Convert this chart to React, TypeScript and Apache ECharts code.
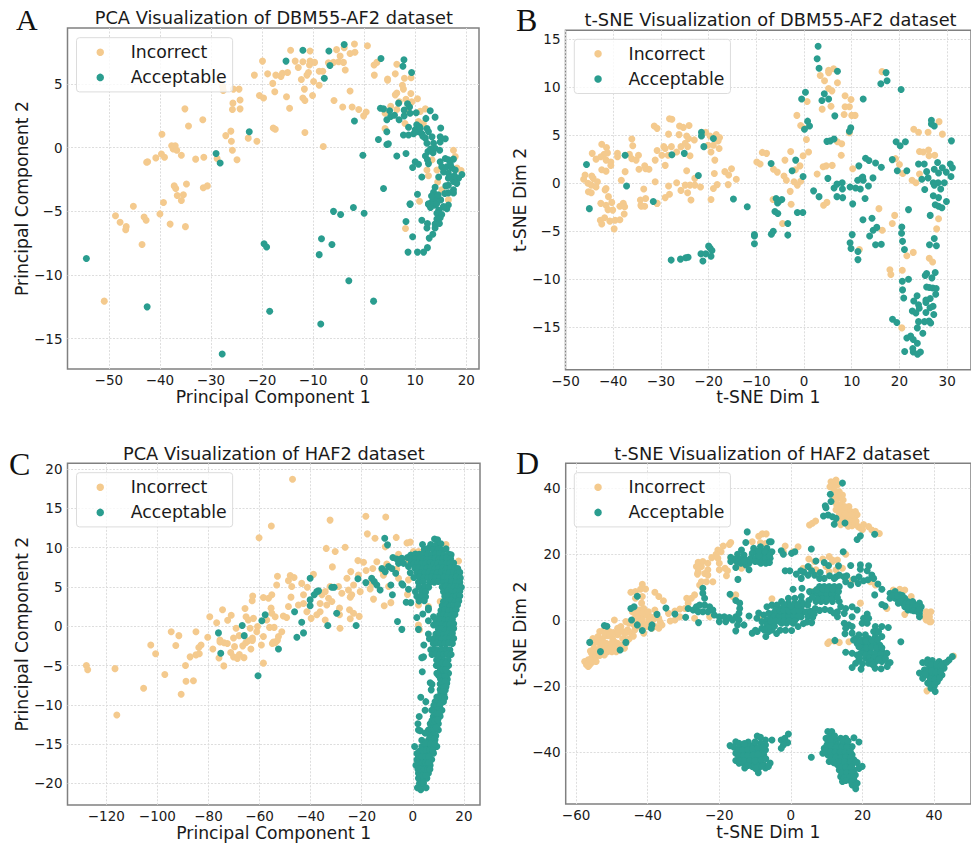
import React, { useEffect, useRef } from "react";
import * as echarts from "echarts";

type P = [number, number];

const INCORRECT = "Incorrect";
const ACCEPTABLE = "Acceptable";
const incorrectColor = "#F4CA8E";
const acceptableColor = "#2A9D8F";

const ticksAX = [-50, -40, -30, -20, -10, 0, 10, 20];
const ticksAY = [-15, -10, -5, 0, 5];
const ticksBX = [-50, -40, -30, -20, -10, 0, 10, 20, 30];
const ticksBY = [-15, -10, -5, 0, 5, 10, 15];
const ticksCX = [-120, -100, -80, -60, -40, -20, 0, 20];
const ticksCY = [-20, -15, -10, -5, 0, 5, 10, 15, 20];
const ticksDX = [-60, -40, -20, 0, 20, 40];
const ticksDY = [-40, -20, 0, 20, 40];

const aIncorrect: P[] = [
[0.65,8],[-1.9,8.14],[-5.4,7.7],[-3.9,7.85],[-2.75,7.4],[-1.8,7.5],[-4.7,7.2],[-5,6.75],[-6,6.7],[-4.05,6.7],[-3.7,6.1],[-7,6.67],
[-14.4,7.65],[-10.6,7.6],[-13.5,6.8],[-12,6.75],[-12.9,6.3],[-10.6,6.8],[-9.7,6.7],[-10.7,6.5],[-19.9,6.8],[-21.5,5.7],[-18.9,5.8],
[-17.3,5.7],[-16.3,5.6],[-16,5.85],[-15,5.9],[-10.9,5.9],[-11.2,5.7],[-8.8,6],[-8.1,6],[-12.3,5.35],[-9.9,5.2],[-8.8,4.9],[-17.9,5.05],
[-11.7,4.6],[-17.5,4.4],[-20.5,4.1],[-19.7,3.9],[-15.2,4],[-12,3.9],[-11.6,3.7],[-10.1,4.1],[-14.6,3.1],[-5.9,3.7],[-4.2,3.2],[-2.35,3.2],
[-1.05,3],[0.4,2.8],[-0.1,2.5],[-2.75,4.45],[-25.6,4.6],[-24.5,4.6],[-27.7,4.8],[-27.6,4.5],[-24.3,3.75],[-25.7,3.5],[-25.8,3],[-24.3,3.05],
[-35.1,3.05],[-31.6,2.2],[-34.4,1.7],[-39.6,1.05],[-26.1,1.3],[-27.1,0.95],[-22.7,0.75],[-26,0.5],[-21,0.5],[-17.8,1.55],[-17.4,1.45],
[-11.6,1.2],[-8,0.1],[-25.8,-0.2],[-24.9,-0.95],[-37.7,0.15],[-37,0.15],[-37.4,-0.1],[-36.7,-0.2],[-35.8,-0.6],[-39.7,-0.5],[-39.1,-0.75],
[-40.8,-0.8],[-42.6,-1.15],[-42.4,-1.1],[-33,-0.9],[-31.4,-0.75],[-28.8,-0.85],[-37.2,-3],[-36.9,-3.2],[-34.8,-2.85],[-31.5,-3.15],[-30.7,-3],
[-36.6,-3.75],[-35.4,-3.7],[-35.8,-4.15],[-39.3,-4.3],[-45.2,-4.6],[-48.7,-5.35],[-47.8,-5.85],[-46.6,-6.2],[-46.7,-6.45],[-43.1,-5.45],
[-42.7,-5.7],[-40,-5.2],[-38,-6],[-35,-6.2],[-43.5,-7.6],[-50.9,-12.05],[8.1,-6.35],
[2,5.7],[1.95,6.5],[2.5,6.7],[6.4,6.55],[6.1,5.8],[4.6,5.4],[4.6,5.3],[9.2,5.5],[7.9,5.45],[7.5,4.9],[7.7,4.6],[9.15,4.25],[6.4,4.3],[6.1,4.15],
[10.45,3.85],[9.35,3.6],[8.2,3.8],[6.9,3.6],[5.2,3.25],[6.4,3],[8.2,2.95],[12,3.05],[11,2.85],[4.1,2.7],[8,1.9],[4.1,1.5],[11.6,1.9],[10.65,2.05],
[17.5,-0.2],[17.85,-0.7],[18.2,-1.6],[19,-1.8],[12.3,-1.75],[12.6,-2.2],[13.3,-0.95],[14.25,-1.75],[14.4,-2.7],[15.2,-3.3],[10.85,-4.2],[16.5,-4.1],
];

const aAcceptable: P[] = [
[-3.9,8.1],[-12,7.65],[-6.9,7.6],[-15.3,6.8],[-6.7,6.45],[-7.8,5.45],[3.3,7],[7.8,6.9],[7.6,6.4],[9.3,5.9],[-22.5,1.25],[-29,-0.45],[-28.2,-1.2],
[-1.9,2.1],[-0.25,-0.6],[3.2,3.1],[3.8,3.05],[5,2.9],[4.45,2.2],[5.2,2.45],[5.95,2.55],[6.85,2.2],[7.85,2.5],[6.75,3.5],[8.5,3.45],[7.85,2.95],
[8.9,3.2],[9,2.7],[12.95,2.9],[12.1,2.3],[13.9,2.4],[15,1.55],[10.2,2.75],[10.3,1.8],[10.85,1.65],[10,1.4],[8.7,1.6],[7.7,1],[8.7,1],[9.7,1.1],
[10.65,1.25],[11.3,1.1],[12.3,1.5],[12.6,1.25],[12,0.75],[13.3,0.85],[12.3,0.35],[13.6,0.35],[13.9,-0.05],[14.9,0.85],[15.9,0.7],[14.9,0.45],
[14.8,-0.2],[13.5,-0.4],[12,-0.65],[12.4,-0.95],[12.6,-1.25],[2.8,0.65],[4.45,1.25],[4.45,0.25],[4.75,0.3],[6.4,-0.65],[8.2,-0.45],[10,-1.1],
[10.65,-1.3],[9.5,-1.55],[14.9,-1.1],[15.9,-0.85],[16.5,-0.95],[17.5,-0.9],[15.2,-1.5],[16.2,-1.5],[17.2,-1.6],[15.55,-1.9],[17.85,-1.75],[16.5,-2],
[19.15,-2.1],[18.5,-2.4],[16.5,-2.4],[17.5,-2.65],[18.15,-2.8],[16.5,-2.95],[17.5,-3.3],[14.6,-2.3],[11.3,-2.3],[13.9,-3.1],[16.5,-3.55],[17.5,-3.55],
[3.8,-3.2],[10.45,-3.65],[9,-4.4],[13.6,-3.5],[13.9,-4],[13.3,-4.25],[12.6,-4.4],[13.9,-4.5],[15.55,-4.65],[16.5,-4.5],[14.6,-4.9],
[-6,-5],[-4.6,-5.25],[-2.1,-4.7],[0,-5.15],[9,-4.45],[12.6,-4.45],[13.6,-4.5],[14.25,-5.15],[15.2,-5.25],[14.9,-5.5],[14.25,-5.6],[16.2,-4.8],
[15.55,-4.65],[11.3,-5.7],[8.2,-5.8],[12.4,-5.95],[12.3,-6.3],[13.9,-6],[14.75,-5.95],[13.9,-6.3],[9.5,-7],[12.75,-7.1],[13.45,-6.8],[12.4,-7.85],
[11.65,-8.2],[10.45,-8.2],[8.6,-8.2],[-54.4,-8.7],[-42.5,-12.5],[-27.8,-16.2],[-19.6,-7.55],[-19.1,-7.8],[-18.5,-12.85],[-8.35,-7.15],[-6.3,-7.6],
[-8.8,-8.4],[-8.5,-13.85],[-3,-10.45],[1.85,-12.05],
[13,-4.7],[14.2,-4.4],[15,-4.1],[15.8,-3.6],[16,-3],[17,-2.3],[16.9,-1.3],[17.7,-2.2],[13.2,-3.8],[14.5,-3.7],[12.5,-0.3],[13,-0.1],[11.5,0.9],[11,1.5],
];

const bIncorrect: P[] = [
[-46.2,0.4],[-45.9,0.85],[-45.3,0],[-44.5,0.75],[-44.2,0.5],[-43.3,0.15],[-44.6,-0.2],[-43.6,-0.4],[-45.2,-0.9],[-44.6,-1],[-41.5,-0.55],[-41.7,-0.7],
[-41,-1.4],[-44.4,3.1],[-42.4,4.05],[-41.4,3.7],[-41.2,3.15],[-41.9,3],[-42.6,2.75],[-43.6,2.5],[-41.5,2.4],[-40.5,2.2],[-40.5,1.85],[-42.4,1.4],
[-41.5,1.25],[-39.1,3.1],[-39.1,2.75],[-37.5,1.2],[-38.3,0.3],[-36.6,3],[-36.1,4.6],[-35.9,3.9],[-36.1,2.55],[-35.2,2.4],[-34.7,2.9],[-34.6,1.45],
[-33.4,1.8],[-33.2,1.5],[-32.5,1.45],[-31.4,5.95],[-30.8,5.7],[-31.2,2.4],[-30.8,3.4],[-29.8,2.9],[-29.4,3.8],[-29.1,3.6],[-29.1,1.85],[-28.4,5.1],
[-28.2,6.7],[-27.7,6.65],[-28.5,2.9],[-27.8,3.8],[-26.7,3.25],[-26.2,5.05],[-26.1,5.95],[-25.3,5.8],[-24.1,6],[-25.8,3.8],[-24.9,4.15],[-24.6,4.9],
[-24.2,4.65],[-23,4.5],[-24.4,3.8],[-23.9,2.85],[-24.6,1.3],[-20.6,5.3],[-19.7,4.9],[-18.4,5.05],[-17.7,4.75],[-18,4.4],[-20.1,3.95],[-19,3.95],
[-17.8,3.6],[-19.5,3.25],[-18.7,2.4],[-18.8,1],[-22.9,0.5],[-31.2,0.15],[-28.4,-0.3],[-26.7,0.05],[-24.9,-0.2],[-23.9,-0.2],[-22.9,-0.2],[-21.7,-0.4],
[-18.2,-0.15],[-19,-0.55],[-25.8,-0.75],[-24.4,-1],[-23.7,-1.75],[-28.2,-1.15],[-29.1,-1.5],[-33.6,-0.6],[-33.2,-1.6],[-34.3,-1.75],[-34.1,-2.4],
[-30.8,-2.1],[-19.5,-1.7],[-16.6,1.2],[-15.8,0.85],[-15.2,1.5],[-15.9,-0.15],[-14.2,0.4],[-9.9,2.2],[-9.2,2],[-8.75,3.2],[-7.85,3.1],[-6.4,1.45],
[-5.6,1.15],[-4.2,0.75],[-3.7,0.3],[-4,2.4],[-2.8,3.3],[-1.8,1.4],[-0.85,1.8],[-2.1,0.15],[-1.4,-0.2],[-0.7,0.2],[-2.9,-0.85],[-6.5,-1.7],[-2.7,-2.2],
[-0.2,2.85],[0.95,3.25],[0.5,4.55],[-1.5,7.05],[0.65,8.5],[-0.7,6],[0,5.7],[2.75,0.95],[4,1.7],[4.65,1.8],[5.9,1.85],[7.8,2.9],[7,4.3],[7.9,4.1],
[10.2,1.5],[3.4,11.2],[4.3,10.65],[5.15,11.75],[6.2,11.9],[5.15,11.5],[7,10.45],[5.15,9.85],[5.85,9.6],[5.65,8],[3.8,7.7],[8.6,9.1],[9.85,8.7],
[8.6,7.95],[9.5,7.95],[8.4,7.15],[10,7.05],[10.7,7.05],[9.5,5.25],[16.35,11.6],[23,5.6],[24,5.3],[26,5.3],[28.3,6.4],[29,5.1],[24.2,3.3],[25,3.25],
[26.1,3.45],[26.2,2.85],[27.4,2.9],[19.2,2.55],[20,1.95],[20.7,1],[24.2,0.95],[22.65,0.3],[23.45,0.05],
[-42.6,-2.1],[-41.5,-2.3],[-40.3,-2],[-41.1,-2.75],[-40.1,-2.8],[-41.8,-3.6],[-42.7,-3.85],[-42.4,-4.25],[-40.7,-3.95],[-39.6,-3.85],[-38.6,-3.8],
[-39.8,-4.75],[-38.6,-2.4],[-37.9,-2.1],[-37.6,-2.45],[-37.7,-3.2],[-34.2,-2.3],[-33.4,-2.4],[-30.8,-2.1],[-4.5,-4.2],[4.1,-2.3],[4.8,-2],[15.7,-2.65],
[19,-3.35],[18.5,-4.2],[28.2,-3.7],[27.8,-4.75],[16.4,-4.9],[11.6,-6.9],[22.9,-7.2],[21.55,-7.55],[26.25,-7.8],[26.95,-8.2],[18,-9],[18.2,-9.5],
[20.6,-9.05],[20.5,-15.05],
];

const bAcceptable: P[] = [
[2.95,14.25],[2.75,12.95],[3.15,11.95],[7,11.65],[17.2,11.5],[17.4,10.65],[16.1,10.35],[20.35,9.75],[12.4,8.75],[0.3,9.45],[-0.5,8.75],[4.25,9.3],
[5.15,8.75],[3.75,8.6],[6.45,7],[0.75,6.45],[1.15,5.95],[0.1,5.6],[9.8,5.75],[9.5,5.4],[4.8,4.35],[5.5,4.4],[6.3,4.6],[19.3,4.3],[20.15,3.9],[21.25,4.3],
[30.9,4.4],[26.7,6.55],[26.7,6.15],[27.3,5.95],[-21.5,5.3],[-21.5,4.9],[-19,4.65],[-21,3.8],[-27.7,2.95],[-25.1,3.1],[-37.5,2.9],[-45.6,1.95],[-37.2,-0.3],
[-22.15,0.8],[-14.8,-1.65],[-31.6,-1.9],[-6.9,2.05],[-1.75,2.4],[-2.5,1.3],[-0.2,0.7],[-5.85,-1.6],[-5.2,-1.85],[-4.65,-1.7],[-5.55,-2.05],[5,0.5],
[2,-0.8],[3.15,-1.4],[6.3,-0.5],[6.9,-0.1],[8,0.05],[8.05,-0.6],[6.9,-1.4],[8.1,-1.5],[9.65,-0.4],[10.8,-0.5],[11.8,-0.6],[11.25,0.3],[12.05,0.5],[12.4,0.3],
[12.3,0.65],[13.5,-0.3],[14.45,0.55],[11.5,1.8],[12.9,2.6],[13.6,2.35],[15,2.1],[16.2,1.65],[18.5,2.45],[19.55,1.3],[21.55,1.3],[24,2],[25.2,2],[25.7,1.2],
[24.7,0.4],[26,0.55],[28,2.15],[27.3,1.45],[29,1.6],[28.2,1.05],[29.8,1.15],[30.65,2],[31.1,1.6],[30.8,0.7],[27.1,0.05],[28.1,0.05],[29.4,0.05],[27.3,-0.2],
[28.65,-0.6],[25.3,-0.65],[27.1,-1.3],[28.2,-1.5],[29.85,-1.9],[27.5,-2.25],[28.2,-2.4],[28.9,-2.55],[12.8,-1.6],[10.2,-2.15],
[-45,-2.65],[21.9,-2.75],[-11.9,-2.45],[-6.1,-2.95],[-5.5,-3.15],[-1.4,-3.05],[-0.25,-3.05],[-3.4,-4.2],[12.35,-3.8],[14.25,-3.65],[14.5,-4.9],[15.25,-4.6],
[13.75,-5.5],[10.1,-5.35],[9.65,-6.2],[9.85,-6.8],[11.3,-7.1],[11.3,-7.95],[15,-6.4],[16.2,-6.35],[20.5,-4.55],[20.45,-5.2],[20.65,-6.05],[21.05,-6.9],
[26.45,-3.35],[27.3,-5.75],[26.3,-6.4],[27.75,-6.5],[-10.4,-5.35],[-10.4,-5.5],[-10.4,-6.3],[-6.45,-5],[-6.85,-5.3],[-3.4,-5.4],[-27.85,-8],[-25.9,-7.9],
[-24.8,-7.75],[-24.3,-7.7],[-21.6,-7.35],[-20.6,-7.35],[-21.2,-8.1],[-20,-6.55],[-19.7,-6.75],[-19.3,-7],[-19.5,-7.6],[27.5,-9.3],[25.7,-9.4],[25.4,-9.6],
[26.8,-9.85],[21.9,-10],[20.6,-10.2],[20.65,-11.1],[20.9,-11.95],[25.7,-10.8],[26.3,-10.85],[27,-10.9],[27.7,-10.95],[27.6,-11.55],[26.45,-12],[25.55,-12.15],
[25.55,-12.4],[23.7,-11.7],[23,-12.25],[24,-12.65],[24.15,-13],[27.05,-12.8],[26.4,-12.95],[25.55,-13.45],[27.2,-13.65],[22.7,-13.3],[23.45,-13.5],[24,-14.4],
[25.25,-14.4],[26.2,-14.35],[26.55,-14.55],[23.75,-15.05],[24.9,-15.6],[18.55,-14.15],[19.45,-14.5],[21.55,-16.1],[22.35,-15.9],[22.9,-16.25],[23.75,-16.65],
[22.8,-17.2],[21.1,-17.5],[22.9,-17.55],[23.8,-17.8],[24.4,-17.55],
];

const cIncorrect: P[] = [
[-127.8,-5],[-127.3,-5.55],[-116.6,-5.4],[-115.9,-11.3],[-105.4,-7.9],[-102.6,-2.4],[-100.7,-3.5],[-97.1,-6.15],[-92.8,-2.45],[-90.7,-8.65],[-89,-5],
[-88.8,-7],[-85.9,-6.95],[-87.2,-3.9],[-84.9,-3.65],[-83.6,-3.5],[-83.8,-2.7],[-82.9,-2.4],[-78.3,-2.9],[-75.9,-4.05],[-74,-5.05],[-75.5,-2],[-73.9,-2.1],
[-72.6,-2.2],[-71.3,-3.35],[-70.2,-3.9],[-68.7,-4.1],[-67.9,-3.6],[-66.1,-4],[-69.8,-2.6],[-66.6,-2.5],[-65.4,-2.1],[-63.4,-2.9],[-62.8,-1.8],[-59.3,-2.4],
[-58.5,-4.7],[-55,-2.2],[-53.9,-2.1],[-53,-1.8],[-94.6,-0.7],[-91.6,-1.2],[-84.9,-0.7],[-80.3,-1.4],[-79.5,1.2],[-76.8,0.45],[-74.5,2.1],[-72.5,0.75],
[-71.1,1.4],[-69.2,-0.25],[-65.7,2.25],[-65.3,1.2],[-64.4,0.8],[-62.4,1],[-60.8,-0.05],[-63.7,-0.25],[-61.1,-0.7],[-58.5,-1.3],[-62.8,-1.5],[-75.5,-1.75],
[-70.2,-1.5],[-68,-1.2],[-64.4,-1.85],[-62.7,3.85],[-62.9,3.25],[-58.5,3.65],[-56.5,3.55],[-55.2,4],[-55.5,2.3],[-55.2,1.65],[-53.9,1.2],[-50.7,1.3],
[-49.4,1.1],[-57.2,0.8],[-56.1,-0.15],[-54.3,-0.15],[-51.3,-0.7],[-52.6,-1.3],[-54.6,-2],[-60.2,11.25],[-55.4,12.75],[-47.1,18.7],[-53,6.35],[-53.3,5.25],
[-48.7,5.8],[-48,6.45],[-46.5,6.2],[-47.4,5.05],[-47.7,3.7],[-48.7,2.5],[-43.5,5.45],[-42.8,4],[-41.3,4.95],[-38.9,6.6],[-42.8,2.9],[-44.8,2.7],[-41.5,1.85],
[-39.8,1],[-37.6,1.45],[-36.3,1.85],[-34.3,0.8],[-36.3,2.9],[-33.7,2.7],[-31.7,3.15],[-33,3.55],[-35.6,4],[-34.3,4.4],[-32.4,5.05],[-29.1,5.05],[-27.8,4.2],
[-28.7,2.3],[-28.7,1.45],[-28.5,-0.25],[-24.8,2.1],[-23.2,1.65],[-24.5,0.95],[-21,1.25],[-24.5,3.7],[-25.2,4.6],[-23.9,4],[-20.6,4.4],[-23.2,5.25],[-25.8,6.1],
[-24.3,6.95],[-21.3,6.5],[-21.5,8.35],[-19.3,8.15],[-18.3,7.1],[-16.1,5.45],[-16.7,4.75],[-15.4,3.45],[-11.2,2.6],[-8.6,3],[-14.1,8.2],[-15.7,7.35],[-12.1,7.15],
[-11.5,6.5],[-10.2,7.9],[-6.3,7.25],[-5.6,6.1],[-9.5,5.05],[-32.4,13.5],[-33.9,9.9],[-30.4,9.5],[-26.5,10.05],[-31.5,7.55],[-18.4,14],[-10.6,13.9],[-17.8,11.75],
[-14.8,11.2],[-6.5,11.3],[-10.8,10.1],[-2.3,10.6],[-1,10.7],[13,10.4],[-5.6,9.15],[0.25,9.5],[2.2,9.5],[-3,8.2],[0.25,8],[17.9,8.3],[-2.1,4.05],[-1.7,5.9],
[2.2,2.7],[2.2,0.15],[2.6,-0.45],[10.7,3.15],[12.7,0.15],[6.1,2.5],
];

const cAcceptable: P[] = [
[-11,11.2],[-9.9,10.35],[-40.2,6.1],[-37.6,4.4],[-38.6,4],[-36.9,4.5],[-31.7,4.95],[-30.8,4.95],[-40.2,3.35],[-40.2,2.6],[-46.3,1.85],[-43.5,0.5],[-33.3,0.1],
[-22.2,0.1],[-29.8,1.65],[-57.8,1.45],[-59.1,0.7],[-66.8,0.1],[-66,-1.2],[-76.1,-0.85],[-42.8,-0.85],[-45.4,-1.4],[-75.2,-3.45],[-52.6,-2.9],[-60.6,-6.3],
[-21.5,6.05],[-18.4,5.55],[-16.1,6.1],[-15.1,5.7],[-14.1,5.25],[-12.8,4.6],[-8.6,5.25],[-8,4],[-12.1,7.35],[-10.8,6.95],[-9.5,7.6],[-8.2,7.35],[-6.7,6.75],
[-7.8,8.75],[-6.3,8.55],[-5.6,8],[-4.3,8.65],[-3.65,8],[-2.1,8.75],[-1.7,7.6],[-0.8,9.05],[-0.8,8],[-6,0.6],[-4.3,-0.4],[-4.3,5.4],[-3.9,5.25],[-1.7,4.7],
[-2.6,3.05],[-0.8,3],[1.55,1.1],[3.9,1.55],[6.1,2.1],[6.1,2.3],[8.1,1.2],[6.1,0.7],[8.1,0.15],[10.7,0.15],[6.1,-1],[2.2,-0.4],
[8.5,11.1],[9.7,11],[3.8,10.4],[7,10.4],[9,10.3],[11,10.5],[4.5,9.8],[6,9.9],[8,9.7],[10,9.8],[11.5,9.7],[13,9.85],
[1,9.2],[2.5,9.15],[4,9.25],[6,9.2],[7.5,9.1],[9,9.25],[10.5,9.2],[12,9.1],[14,9.2],[15,9.1],
[-1,8.6],[1,8.55],[2.7,8.65],[4.2,8.6],[5.6,8.5],[7.3,8.6],[8.8,8.65],[10.3,8.55],[11.8,8.6],[13.3,8.7],[14.8,8.6],
[0.5,8],[2,8.05],[3.5,7.95],[5.2,8],[6.8,8.1],[8.3,7.95],[9.9,8],[11.4,8.05],[13,7.95],[14.6,8],[16,8.05],
[0.8,7.4],[2.4,7.45],[4,7.35],[5.6,7.4],[7.2,7.5],[8.6,7.35],[10.2,7.4],[11.8,7.45],[13.2,7.35],[14.8,7.4],[16.4,7.45],[17.6,7.35],
[-1,6.8],[1.6,6.85],[3.2,6.75],[4.8,6.8],[6.4,6.9],[8,6.75],[9.6,6.8],[11.2,6.85],[12.8,6.75],[14.4,6.8],[16,6.85],[17.4,6.75],[18.4,6.85],
[0.4,6.2],[2.6,6.25],[4.2,6.15],[5.8,6.2],[7.4,6.3],[9,6.15],[10.6,6.2],[12.2,6.25],[13.8,6.15],[15.4,6.2],[17,6.25],[18.6,6.15],
[2.2,5.6],[4,5.65],[6.5,5.55],[8.4,5.6],[10,5.7],[12,5.55],[13.6,5.6],[15.2,5.65],[16.8,5.55],[18.4,5.6],
[2.4,5],[4.6,5.05],[6.2,4.95],[11.5,5],[13,5.1],[14.6,4.95],[16.2,5],[17.8,5.05],[19,4.95],
[1,4.4],[3.5,4.45],[5,4.35],[12,4.4],[13.6,4.5],[15.2,4.35],[16.8,4.4],[18.4,4.45],
[1.6,3.8],[3.2,3.85],[5,3.75],[12.5,3.8],[14,3.9],[15.6,3.75],[17,3.8],[18.4,3.85],
[2.4,3.2],[4.5,3.25],[12,3.15],[13.5,3.2],[15,3.3],[16.6,3.15],[18,3.2],
[11.5,2.6],[13,2.65],[14.5,2.55],[16,2.6],[17.5,2.7],
[11,2],[12.5,2.05],[14,1.95],[15.5,2],[17,2.1],
[10.5,1.4],[12,1.45],[13.5,1.35],[15,1.4],[16.5,1.5],
[9,0.8],[11,0.85],[12.5,0.75],[14,0.8],[15.5,0.9],
[9.5,0.2],[11.5,0.25],[13,0.15],[14.5,0.2],[16,0.3],
[10,-0.4],[11.5,-0.35],[13,-0.45],[14.5,-0.4],[16,-0.3],
[9,-1],[10.5,-0.95],[12,-1.05],[13.5,-1],[15.5,-0.9],
[6.5,-1.6],[8.5,-1.55],[10,-1.65],[11.5,-1.6],[13,-1.5],[14.5,-1.6],[16,-1.55],
[4.3,-2.4],[8,-2.2],[9.5,-2.15],[11,-2.25],[12.5,-2.2],[14,-2.1],[15.5,-2.2],
[7,-3],[8.5,-2.95],[10,-3.05],[11.5,-3],[13,-2.9],[14.5,-3],
[4.2,-3.9],[3.5,-4],[7.5,-3.6],[9,-3.55],[10.5,-3.65],[12,-3.6],[13.5,-3.5],[15,-3.6],
[9.3,-4.3],[10.8,-4.25],[12.3,-4.35],[13.8,-4.3],
[9.2,-5],[10.5,-4.95],[12,-5.05],[14,-5],[3.7,-5.8],[9.4,-6],[12,-5.95],[13,-6.05],[14,-6],
[10.8,-6.7],[12.2,-6.65],[13.5,-6.75],[6.8,-7.2],[7.5,-7.4],[10.7,-7.35],[12,-7.3],[13.3,-7.25],[7.2,-8.1],[10.7,-8.05],[12.7,-8.15],[11.5,-8.6],[12.2,-8.7],
[3.1,-9.05],[5.1,-9.6],[8.7,-9.6],[9.8,-9.55],[11,-9.65],[12,-9.6],[8.2,-10.1],[9.4,-10.15],[10.6,-10.05],[4.8,-10.7],[7.4,-10.7],[8.6,-10.75],[9.8,-10.65],[11.4,-10.7],
[2.5,-11.5],[8,-11.5],[9.2,-11.55],[10.7,-11.45],[2,-12.4],[6.8,-12.4],[8,-12.45],[9.2,-12.35],[10,-12.4],[2.2,-13.2],[2.9,-13.3],[6.1,-13.2],[7.4,-13.25],[8.7,-13.15],[10,-13.2],
[4.8,-13.6],[6.6,-13.9],[8,-13.85],[9,-13.95],[3.5,-14.5],[6.1,-14.5],[7.4,-14.55],[8.7,-14.45],
[0.7,-15.3],[3.5,-15.3],[4.7,-15.35],[6,-15.25],[7.2,-15.3],[8.4,-15.35],[9.4,-15.3],[1.6,-16.2],[3,-16.25],[4.3,-16.15],[5.6,-16.2],[6.9,-16.25],[8.1,-16.15],
[1.6,-17],[3,-17.05],[4.2,-16.95],[5.4,-17],[6.5,-17.05],[7.4,-16.95],[1.2,-17.7],[2.9,-17.7],[4.2,-17.75],[5.5,-17.65],[6.8,-17.7],[2.2,-18.7],[3.5,-18.65],[4.8,-18.75],[6.1,-18.7],
[2.2,-19.35],[3.3,-19.4],[4.4,-19.3],[5.5,-19.35],[2.6,-20],[3.4,-20.05],[4.2,-19.95],[1.8,-20.55],[3.1,-20.8],[5.2,-20.55],
[10,-4.6],[11.5,-4.7],[13,-4.7],[10.8,-5.5],[11.8,-5.5],[13,-5.5],[10.2,-6.3],[11.2,-6.4],[12.6,-6.4],[11.3,-7],[12.7,-7],[11.3,-7.8],[12,-7.8],[13,-7.7],[10.9,-8.5],[11.8,-8.3],
[9.4,-9],[10.6,-9],[11.5,-9],[12.5,-9.1],[8.5,-11],[9.5,-11.1],[10.3,-11.1],[7.5,-12],[8.6,-12],[9.8,-11.9],[7,-13],[8,-13],[9.2,-12.9],[6.7,-14.2],[8.4,-14.3],[5,-14.9],[7,-15],[8.6,-15],
[2.5,-15.9],[4,-15.8],[5.3,-15.8],[6.6,-15.8],[7.8,-15.8],[2.2,-16.6],[3.6,-16.6],[5,-16.6],[6.2,-16.6],[2.2,-17.4],[3.6,-17.4],[4.9,-17.4],[6.1,-17.4],[2,-18.2],[3.2,-18.2],[4.5,-18.2],[5.8,-18.2],[6.7,-18.2],[2.6,-19],[4,-19],[5.2,-19],
];

const dIncorrect: P[] = [
[11.2,42],[12.6,42.5],[11.6,41],[10.9,40.5],[13,41],[12.1,39.5],[13.5,39],[14.4,38],[13.5,37],[14.6,36.5],[12.6,35.5],[13.9,35],[16.2,34.5],[12.6,33.5],[13.9,33.5],
[15.3,33],[16.7,33],[18,33],[18.5,32],[13.5,32],[14.9,31.5],[16.2,31.5],[17.7,31],[13.5,30.5],[15.3,30],[16.7,30],[18.2,30],[13.9,29],[15.8,29],[17.1,28.7],[18.8,28.4],
[20.3,29],[21.7,28.4],[22.6,27.4],[23.6,27],[24.7,26.3],[19.4,28],[5.2,28.9],[6,29.4],[6.9,30.1],
[-8,26.2],[-6.9,26.2],[-9,25.5],[-10.8,23.8],[-8.5,23.5],[-7.1,23.3],[-16.8,23.6],[-17.2,23],[-18.9,22.5],[-20.4,21.3],[-19.5,20.8],[-20.9,20],[-22.1,19],[-20.4,18.8],
[-25.9,17.6],[-24.6,17.8],[-23.2,17.3],[-26.4,16.3],[-25,16.3],[-23.2,15.3],[-20,17.3],[-20,15.3],[-18.4,15.8],[-17.7,15],[-18,13.5],[-25.9,14.7],[-26.1,14],[-24.1,14.2],
[-23.2,13.7],[-25,11.7],[-23.6,11.7],[-21.8,11.7],[-25.5,10.7],[-16.8,18.8],[-14.9,16.8],[-13.8,15.8],[-1.6,22.5],[2,22.3],[-2.1,20.8],[0.6,20.8],
[-41.5,10.9],[-44.7,8.5],[-43.4,8.7],[-42,9.4],[-40.6,9.5],[-38,8.5],[-36.9,7.2],[-35.6,5.9],[-41.5,7.2],[-43.4,6.7],[-41.7,5.2],[-44.3,2.6],[-42.4,3.1],[-41.1,3.6],[-38,3.1],
[-43.4,1.1],[-42,1.1],[-40.6,1.6],[-39.2,1.1],[-42.9,-0.4],[-41.5,0.1],[-39.7,0.1],[-38.3,0.3],[-36.9,0.6],[-43.8,-1.4],[-40.1,-1.9],[-37.9,-1.9],[-36,-1.4],[-36.9,-2.4],
[-41.1,-3.9],[-38.8,-2.4],[-34.2,2.1],[-32.4,2.8],[-31,3.4],[-29.6,3.6],[-33.7,-0.2],[-32.4,0.1],[-31,1.1],[-29.1,6.7],[-27.8,6.7],[-26.9,7.7],[-28.7,5.2],[-26.9,0.6],[-22.7,1.1],
[-49.3,0.1],[-53.4,-3.4],[-52.1,-2.9],[-50.7,-3.4],[-47.5,-1.9],[-46.1,-0.4],[-45.2,-0.9],[-48.4,-2.4],[-47,-3.4],[-45.6,-2.9],[-55.3,-5.5],[-53.9,-4.9],[-52.6,-5.5],[-51.2,-4.7],
[-49.8,-5.5],[-48.4,-4.4],[-47,-5.5],[-45.2,-5.7],[-53.4,-7],[-51.6,-7],[-50.2,-7],[-48.4,-7],[-57.1,-13.5],[-57.6,-12.5],[-56.6,-12],[-56.2,-13.5],[-55.3,-11],[-54.4,-12.5],
[-55.7,-10],[-54.4,-9.5],[-52.1,-10.5],[-51.2,-9.5],[-53,-8],[-51.6,-8],[-50.2,-8],[-48.8,-9.5],[-46.5,-8.5],[-46.1,-7],[-52.6,-6.5],[-49.3,-6.5],[-56.6,-14],
[28.6,9.2],[30.4,9.4],[31.8,9.2],[33.6,7.2],[26.8,3.6],[31.8,1.8],[39.1,2.6],[37.8,2.6],[37.3,1.1],[38.7,1.1],[37.8,0.1],[38.7,-0.4],[39.1,-0.4],
[5,18.6],[6.6,17.8],[8.9,18.6],[10.7,19.3],[11.6,18.3],[3.4,15.8],[5.2,16],[7,15.3],[9.8,16.3],[10.7,14.7],[12.6,15.3],[14.4,15.8],[15.3,20],[17.1,12.2],[19.4,5.2],[-5.3,6.5],[-8.1,1.1],
[8,8.7],[5.7,8.7],[11.6,17.8],[22.2,11.7],[23.6,10.7],[13,18.3],[-15.4,7.7],[-16.3,7.2],[10.7,-6.5],[10.3,-7],[13.5,-6.7],[16.2,-6.5],[12.1,-6.3],[38,-21.4],[45.4,-10.8],
[-52,-4],[-50.5,-4.4],[-49.6,-3.7],[-48.2,-3.6],[-46.3,-4],[-44.8,-3.8],[-54,-6],[-55,-7],[-52.9,-7.5],[-49.6,-7.5],[-47.1,-7.6],[-55,-8.5],[-53.7,-8.8],[-51,-8.8],[-49,-8.2],[-56,-9.3],[-52.5,-9.3],[-50,-9.5],
[-55.7,-11.5],[-54.5,-11],[-53.4,-10.7],[-56.6,-13],[-55.5,-12.7],[-56,-12],[-44,-4.8],[-46,-6],[-43.6,-2.9],[-42,-2],[-41,-1.2],[-39.4,-1],[-36.5,-0.5],[-43,2.2],[-41.5,2.2],[-39.8,2.6],[-37.5,1.8],
[12,37.7],[13,38],[12.3,36.7],[14,33.6],[15,34.5],[15.1,32.2],[17,32],[14.5,30.5],[16,28.5],[12.9,34.6],[13,31],[20,27.5],
];

const dAcceptable: P[] = [
[14.4,41.6],[11,38.2],[11.2,36],[9.6,34.7],[9.8,34.1],[9.1,31.6],[10.4,31.9],[11.6,31.4],[12.6,30.9],[12.1,29.1],[15.1,29.5],[19.4,25.6],[18.5,24.5],[23.4,26.1],
[-12.2,26.8],[-12.6,23.6],[-5.5,23.8],[-6,23.8],[-8.5,22.3],[-6.7,21.8],[-10.4,21.8],[-13.8,21.3],[-14.9,20],[-13.1,19.8],[-10.8,20.3],[-9.4,20.3],[-8.1,19.8],[-6.7,20.3],[-5.3,20.8],
[-16.8,19.1],[-15.4,18.6],[-14,18.6],[-12.6,18.3],[-11.2,18.8],[-9.8,18.8],[-8.4,18.8],[-7,18.6],[-5.8,18.8],[-16.8,17.8],[-14,17.3],[-12.6,16.8],[-11.7,17.3],[-8.4,17.3],[-7,17.3],
[-15.4,16],[-11.7,15.3],[-14.8,12.4],
[-2.7,21.1],[-2.1,20],[0.2,20.3],[1.1,20.8],[5.7,21.6],[14.6,20.8],[-1.6,15],[-0.3,15],[2.75,15],[4.8,16.3],[7,18],[9.3,17.5],[10.5,16.6],[13.3,16.5],[16.7,16.6],[19.4,16.8],[21.7,16.5],
[19.4,15.5],[21.3,15],[22.6,13.7],[23.1,12.7],[19,13.2],[18.8,11.2],[24.3,11],[25.4,9.4],[23.4,7.7],[25.4,4.8],[26.3,4.3],
[2.9,12.7],[4.8,13.7],[6.6,13.7],[8,12.7],[9.3,12.7],[12.6,13.2],[14.8,13.2],[13.5,13.7],[15.3,11.7],[16.7,10.7],[12.1,12.7],
[0.6,9.4],[3.1,9.7],[5.2,8.7],[8,10.2],[9.3,10.2],[10.7,10.2],[12.1,10.2],[13.5,10.2],[6.6,8.7],[8,8.7],[9.3,8.7],[10.7,8.7],[12.1,8.7],[13.3,8.7],
[8,7.2],[9.3,7.2],[10.7,7.2],[12.1,7.2],[7,5.7],[8.4,5.7],[9.8,5.7],[11.6,5.7],[13.5,5.7],
[-0.7,6.7],[1.1,6.7],[2.9,7.2],[-2.6,5.7],[-0.7,5.2],[1.1,5.2],[2.9,5.7],[-6.7,4.1],[-5.3,4.6],[-3.9,4.6],[-2.6,3.6],[-1.2,3.6],[0.2,3.6],[1.6,3.6],[2.9,4.1],
[-7.6,1.6],[-6.2,2.1],[-4.9,2.1],[-3.5,2.1],[-2.1,2.1],[-0.7,2.1],[0.6,2.1],[2,2.1],[3.4,2.6],[-8.1,-0.4],[-6.7,0.1],[-5.3,0.6],[-3.9,0.6],[-2.6,0.6],[-1.2,0.6],[0.2,0.6],[1.6,0.6],[2.9,1.1],[4.8,1.1],[6.1,0.9],
[-10.8,-3.9],[-9.4,-3.4],[-8.1,-2.4],[-6.7,-1.4],[-5.3,-0.9],[-2.6,-0.9],[-1.2,-0.9],[0.6,-0.9],[2,-1.9],[0.2,-3.1],[-5.3,-2.9],[-7,-4.9],[-6.2,-3.4],
[27.7,6.7],[27.7,8.2],[29.1,8.7],[30.4,7.7],[29.1,6.7],[30.4,6.2],[31.8,6.7],[30,5.2],[31.3,5.2],[32.6,5.7],[34,5.7],[31.8,4.1],[33.2,4.4],[34.6,4.6],[35.9,5.2],[33.6,3.1],[35,3.4],[36.4,4.1],[35.9,2.1],[35.9,1.1],[32.7,3.1],
[13.9,4.1],[15.3,3.6],[17.1,4.1],[18.5,3.1],[13,2.6],[14.9,2.1],[13,1.1],[17.1,1.1],[21.3,1.9],[20.3,0.6],[21.7,0.6],[14.9,-0.9],[16.2,-1.4],[19.9,-0.9],[21.3,-0.9],[15.3,-2.4],[17.1,-1.9],[23.6,-1.9],[25.4,-1.9],[27.2,-2.2],
[15.1,-4.1],[17.1,-3.9],[19,-4.4],[20.8,-4.4],[23.1,-3.4],[24.5,-3.4],[18.1,-5.5],[19.9,-6],[21.7,-5.5],[23.6,-4.9],[25.4,-4.9],[18.5,-7],[20.3,-7.3],[22.2,-7],[24,-7],[12.3,-6.1],[30.7,-6.5],
[15.3,-9.7],[17.1,-10],[18.5,-10.5],[20.8,-9.5],[22.2,-9],[24,-9.5],[25.4,-9.5],[26.8,-10],[19,-12],[20.8,-11.5],[24,-11],[25.8,-11],[21.2,-7.5],[23,-7.5],[24.8,-7.5],[18.1,-13],[20,-13.2],[21.7,-13],[23.7,-12.5],[25.4,-12.5],[27.2,-13],[27.7,-12.8],[17.1,-14.3],[19.6,-14.8],[23.5,-14.5],[25.2,-14.7],[26.9,-14],
[35.9,-16],[36.8,-12.8],[38.2,-12],[39.5,-12.2],[41.4,-12.5],[42.8,-13],[44.2,-12],[45.1,-11],[37.3,-15],[38.7,-14.5],[40.1,-14.5],[41.4,-15],[42.8,-14.5],[36.8,-17.6],[38.2,-16.6],[39.5,-16.6],[40.9,-17],[42.2,-16.6],[38.2,-19],[39.5,-18.6],[40.9,-18.6],[40.3,-21.6],[39.1,-20.6],[40,-20.1],
[-17,-38],[-15.4,-36.8],[-14.5,-37.3],[-11.9,-36.9],[-9.4,-35.1],[-8.5,-35.5],[-7.1,-36.3],[-5.3,-36.3],[-7.1,-37.8],[-15.9,-38.5],[-14.5,-38.8],[-13.1,-38.3],[-11.7,-38.3],[-10.4,-37.8],[-8.5,-37.3],[-15.4,-40.3],[-14,-40.3],[-12.7,-40.3],[-11.3,-39.8],[-9.9,-39.8],[-8.5,-39.3],[-7.1,-39.3],
[-15.4,-42.5],[-14,-41.8],[-12.7,-41.8],[-11.3,-41.8],[-9.9,-41.8],[-8.5,-41.3],[-7.6,-40.8],[-14.5,-43.3],[-13.1,-43.5],[-11.7,-43.3],[-10.4,-43.3],[-9,-43.3],[-7.6,-43.8],[-5.8,-43.3],[-12.9,-44.8],[-10.8,-44.3],[-9,-44.8],[-7.1,-44.8],[-9.1,-46.2],
[-2.7,-36.3],[-0.7,-34.5],[-1.7,-35.8],[-0.9,-37.1],[-2.1,-37.8],[-2.7,-38.8],
[5.7,-41.5],[10.3,-33.7],[11.4,-33.7],[9.8,-35.8],[11,-35.3],[12.6,-36.3],[13.9,-35.8],[15.3,-35.8],[17.6,-35.6],[19,-36.9],[10.3,-37.3],[11.6,-37.3],[13,-37.8],[14.4,-37.3],[15.8,-37.8],[9.3,-38.8],[10.7,-38.8],[12.1,-39.3],[13.5,-39.3],[14.9,-39.3],[16.2,-38.8],[17.1,-38.3],
[8.9,-40.3],[10.3,-40.8],[11.6,-40.8],[13,-40.8],[14.4,-40.8],[15.8,-40.8],[17.1,-40.8],[10.7,-42.8],[12.1,-42.3],[13.5,-42.3],[14.9,-42.3],[16.2,-42.3],[17.6,-42.3],[18.5,-43.1],[13,-43.8],[14.4,-43.8],[15.8,-43.8],[17.1,-43.8],[19,-44.9],[19.9,-44.3],
[13.5,-45.4],[14.9,-45.4],[16.2,-45.4],[17.6,-45.4],[13.9,-47.4],[15.3,-46.9],[16.7,-46.9],[18,-46.9],[14.4,-48.9],[16.2,-48.4],[17.6,-48.4],[18.5,-49.4],[17.1,-49.9],[18.1,-51.1],
[-56.2,-6.7],[-52.1,-1.6],[-51.4,-1.8],[-46.1,-6.7],[-53.2,-9.5],[-47.7,-9],[-42.9,7.3],[-44.7,3.6],[-43.8,4.1],[-44.5,0.1],[-42.9,-1.4],[-41.5,-3.1],[-38.8,-1.4],[-39,-2.4],[-37.4,1.8],[-34.9,3.7],[-32.4,1.9],[-29.4,0.9],[-25.8,-0.7],
[-28.7,3.6],[-27.3,3.1],[-26.4,4.1],[-24.6,9.7],[-24.6,8.2],[-24.1,6.7],[-25.5,4.6],[-24.1,4.6],[-22.7,4.1],[-25.9,2.6],[-24.6,2.6],[-23.2,2.6],[-21.8,3.1],[-21.4,1.6],[-20,1.1],[-18.6,1.1],[-17.2,0.8],[-15.4,1.1],[-20,-0.4],[-18.2,-0.4],[-16.3,0.1],[-14.5,0.1],[-14.9,-1.4],[-13.1,-1.4],[-15.4,-3.2],[-11.7,1.3],[-17,7.9],[-15.4,6],[-14.3,5.2],[-14.3,3.6],[-14.5,2.1],
[-14.7,-39.5],[-13.4,-39.3],[-12,-39.2],[-10.7,-39],[-9.2,-38.6],[-7.8,-38.5],[-14.7,-41],[-13.3,-41.1],[-12,-41],[-10.6,-40.9],[-9.2,-40.6],[-14.2,-42.6],[-13,-42.7],[-11.5,-42.6],[-10,-42.6],[-8.3,-42.3],[-7,-42],[-12,-44],[-9.9,-44.9],[-8,-44.2],[-6.3,-44.3],[-13,-37.4],[-10,-36.8],
[11,-36.3],[12.2,-35],[14.5,-36.5],[16,-36.6],[10,-38],[11.2,-38],[12.7,-38.5],[14.2,-38.5],[15.6,-38.5],[9.7,-39.6],[11,-39.9],[12.4,-40],[13.8,-40],[15.2,-40],[16.6,-39.8],[11.2,-41.6],[12.6,-41.5],[14,-41.6],[15.3,-41.5],[16.7,-41.6],
[12,-43.2],[13.7,-43],[15,-43],[16.6,-43],[18,-42.9],[14,-44.6],[15.3,-44.6],[16.8,-44.6],[14.2,-46.2],[15.6,-46.2],[17,-46.2],[14.9,-47.8],[16.4,-47.6],[17.5,-47.6],[15.3,-48.6],[17,-49],[18,-50],
[-4.6,1.3],[-3.2,1.3],[-1.8,1.3],[-0.5,1.3],[0.9,1.3],[2.3,1.4],[-4.3,3],[-3,2.9],[-1.9,3],[-0.5,2.9],[0.9,2.9],[2.3,3],[-2,4.8],[0,4.4],[1.9,4.5],[-5.7,-0.2],[-4.2,-0.2],[-3.2,-0.3],[-1.9,-0.2],[-0.5,-0.2],[1,-0.3],[-6.1,-2.2],[-4.6,-1.8],[-9.9,-3],[-7.4,-3],
[7.4,8],[8.7,8],[10,8],[11.4,8],[8.8,6.5],[10.2,6.4],[11.5,6.4],[7.4,6.4],[13,6.9],[9,9.5],[10.3,9.5],[11.6,9.5],[7.2,9.3],
[-10,17.8],[-9,17.8],[-6,17.5],[-13,18],[-15,17.7],[-8.9,19.6],[-6,19.7],[-7.4,21],[-9,21],
[28.4,7.5],[29.8,7.4],[31.1,7.5],[30.7,5.7],[32,4.9],[33,5],[34,4.9],[32.5,3.8],[34,3.8],[35,4.2],[34.3,2.9],[35.4,2.6],[36,3.2],
[38,-13],[39.2,-13.4],[40.7,-13.3],[42,-13.6],[43.5,-12.7],[38,-15.6],[39.3,-15.4],[40.5,-15.7],[41.8,-15.7],[37.5,-16.3],[38.9,-17.7],[40.2,-17.9],[41.5,-17.6],[39,-19.6],[40.2,-19.4],
[19.9,-8.4],[21.2,-8.3],[22.5,-8.2],[24,-8.3],[25.4,-8.3],[19.5,-10],[20.9,-10.5],[22.2,-10.2],[23.4,-10.2],[25,-10.3],[19,-11],[21.9,-11.4],[23.2,-11.4],[24.9,-11.6],[26.4,-11.6],[22.4,-12.4],[24.5,-12],[19.2,-6.5],[21,-6.3],[22.6,-6],[24.2,-5.9],[19,-8],[17.5,-6],[22.8,-13.4],
[-4,-4],[-3,-3],[-1.5,-3],[3.5,-1],[4.5,-0.5],[5.8,-0.7],[4.2,2.5],[5.5,2.7],[6.8,3.6],[8,3],[9.5,3.3],[11,3],[12,2.2],[6.5,1.9],[-9.5,0.6],[-9,2.2],[3.5,5],[5,6],[6,7],[4.7,4.6],
[1.5,14],[3.6,14.6],[5.8,15],[8.2,14.5],[10.8,13.5],[15.6,13.5],[17.6,12.5],[20.3,12],[21.5,12.3],
];

const FONT = "DejaVu Sans";
const textColor = "#1a1a1a";
const spineColor = "#808080";
const gridLineColor = "#dddddd";

const minusFormat = (v: number) => String(v).replace("-", "\u2212");

function makeAxis(name: string, ticks: number[], min: number, max: number, gap: number, isX: boolean, idx: number) {
  return {
    type: "value",
    gridIndex: idx,
    min,
    max,
    name,
    nameLocation: "middle",
    nameGap: gap,
    nameTextStyle: { fontFamily: FONT, fontSize: 17.2, color: textColor },
    axisLine: { show: false },
    axisTick: { show: false, customValues: ticks },
    axisLabel: {
      customValues: ticks,
      fontFamily: FONT,
      fontSize: 13.5,
      color: textColor,
      margin: isX ? 4 : 5,
      formatter: minusFormat,
    },
    splitLine: { show: true, lineStyle: { color: gridLineColor, width: 1, type: [2, 1.5] } },
  };
}

const panels = [
  { title: "PCA Visualization of DBM55-AF2 dataset", xName: "Principal Component 1", yName: "Principal Component 2",
    box: [67.5, 28, 411.5, 341], xr: [-58.1, 22.5], yr: [-17.38, 9.4], xt: ticksAX, yt: ticksAY, inc: aIncorrect, acc: aAcceptable,
    titleX: 273.8, titleTop: 8, legend: [76.5, 37.7] },
  { title: "t-SNE Visualization of DBM55-AF2 dataset", xName: "t-SNE Dim 1", yName: "t-SNE Dim 2",
    box: [565.5, 30.3, 410, 339.4], xr: [-50, 35], yr: [-19.4, 15.9], xt: ticksBX, yt: ticksBY, inc: bIncorrect, acc: bAcceptable,
    titleX: 770.5, titleTop: 10, legend: [574.3, 39.3] },
  { title: "PCA Visualization of HAF2 dataset", xName: "Principal Component 1", yName: "Principal Component 2",
    box: [67.5, 463.3, 412.5, 341.7], xr: [-135.2, 26.3], yr: [-22.75, 20.73], xt: ticksCX, yt: ticksCY, inc: cIncorrect, acc: cAcceptable,
    titleX: 273.8, titleTop: 444, legend: [76.5, 472.7] },
  { title: "t-SNE Visualization of HAF2 dataset", xName: "t-SNE Dim 1", yName: "t-SNE Dim 2",
    box: [565.7, 463.3, 411.6, 340.7], xr: [-62.9, 50.3], yr: [-55.7, 47.6], xt: ticksDX, yt: ticksDY, inc: dIncorrect, acc: dAcceptable,
    titleX: 772, titleTop: 444, legend: [574.3, 472.7] },
];

const letters = [
  { text: "A", left: 16, top: 4, size: 30 },
  { text: "B", left: 516, top: 4, size: 32 },
  { text: "C", left: 9, top: 448, size: 32 },
  { text: "D", left: 516, top: 447, size: 32 },
];

export default function App() {
  const ref = useRef<HTMLDivElement>(null);
  useEffect(() => {
    if (!ref.current) return;
    const chart = echarts.init(ref.current, undefined, { renderer: "svg" });
    const option: any = {
      animation: false,
      backgroundColor: "#ffffff",
      title: panels.map((p) => ({
        text: p.title,
        left: p.titleX,
        top: p.titleTop,
        padding: 0,
        textAlign: "center",
        textStyle: { fontFamily: FONT, fontSize: 17.8, fontWeight: "normal", color: textColor },
      })),
      grid: panels.map((p) => ({
        show: true,
        left: p.box[0],
        top: p.box[1],
        width: p.box[2],
        height: p.box[3],
        borderColor: spineColor,
        borderWidth: 1.5,
        containLabel: false,
      })),
      xAxis: panels.map((p, i) => makeAxis(p.xName, p.xt, p.xr[0], p.xr[1], 19, true, i)),
      yAxis: panels.map((p, i) => makeAxis(p.yName, p.yt, p.yr[0], p.yr[1], 36, false, i)),
      legend: panels.map((p) => ({
        left: p.legend[0],
        top: p.legend[1],
        orient: "vertical",
        selectedMode: false,
        data: [INCORRECT, ACCEPTABLE],
        padding: [6, 6, 6, 20],
        itemWidth: 24,
        itemHeight: 7.5,
        itemGap: 8.2,
        backgroundColor: "rgba(255,255,255,0.8)",
        borderColor: "#dcdcdc",
        borderWidth: 1,
        borderRadius: 3,
        textStyle: { fontFamily: FONT, fontSize: 17.3, color: textColor, padding: [0, 0, 0, 13.5] },
      })),
      series: panels.flatMap((p, i) => [
        { type: "scatter", name: INCORRECT, xAxisIndex: i, yAxisIndex: i, data: p.inc, symbol: "circle", symbolSize: 7,
          itemStyle: { color: incorrectColor, opacity: 1 } },
        { type: "scatter", name: ACCEPTABLE, xAxisIndex: i, yAxisIndex: i, data: p.acc, symbol: "circle", symbolSize: 7,
          itemStyle: { color: acceptableColor, opacity: 1 } },
      ]),
      graphic: letters.map((l) => ({
        type: "text",
        left: l.left,
        top: l.top,
        style: { text: l.text, fill: "#111111", font: `${l.size}px "Liberation Serif"` },
      })),
    };
    chart.setOption(option);
    return () => chart.dispose();
  }, []);
  return <div ref={ref} style={{ position: "absolute", left: 0, top: 0, width: 971, height: 846 }} />;
}
